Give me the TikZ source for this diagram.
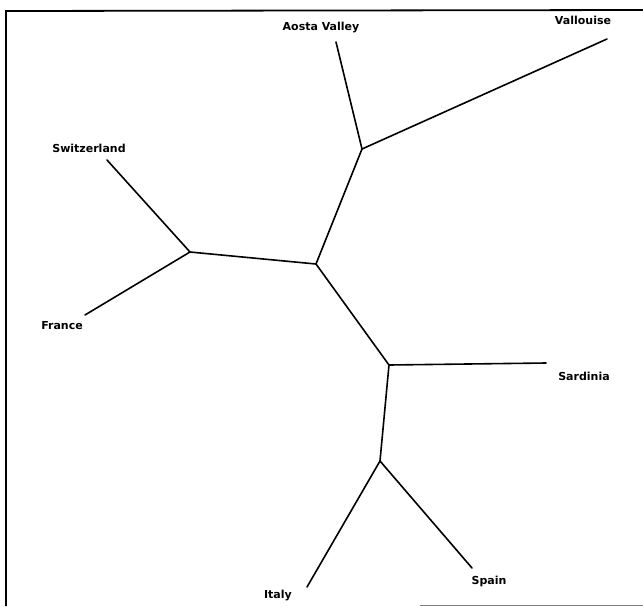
\documentclass[tikz,border=0pt]{standalone}
\usepackage{fontspec}
\setmainfont{DejaVu Sans}
\begin{document}
\begin{tikzpicture}[x=1pt,y=-1pt,
  branch/.style={line width=1.6pt,line cap=round,line join=round},
  leaf/.style={font=\bfseries\fontsize{11}{13}\selectfont,inner sep=0pt},
  frameline/.style={line width=1.8pt}]
\useasboundingbox (0,0) rectangle (643,606);
\fill[white] (0,0) rectangle (643,606);
% frame
\draw[frameline] (643,10) -- (6,11) -- (6,606);
\draw[line width=1pt,gray] (420,605) -- (643,605);
% internal nodes
\coordinate (c) at (316,264);
\coordinate (u) at (362,149);
\coordinate (l) at (190,252);
\coordinate (d) at (389,365);
\coordinate (b) at (380,461);
% leaf ends
\coordinate (aosta) at (336,42);
\coordinate (vall) at (607,39);
\coordinate (swiss) at (107,160);
\coordinate (france) at (85,315);
\coordinate (sard) at (546,363);
\coordinate (italy) at (307,587);
\coordinate (spain) at (472,568);
% branches
\draw[branch] (c) -- (u);
\draw[branch] (u) -- (aosta);
\draw[branch] (u) -- (vall);
\draw[branch] (c) -- (l);
\draw[branch] (l) -- (swiss);
\draw[branch] (l) -- (france);
\draw[branch] (c) -- (d);
\draw[branch] (d) -- (sard);
\draw[branch] (d) -- (b);
\draw[branch] (b) -- (italy);
\draw[branch] (b) -- (spain);
% labels
\node[leaf] (taosta) at (321,28) {Aosta Valley};
\node[leaf] (tvall) at (583,20) {Vallouise};
\node[leaf] (tswiss) at (89,148) {Switzerland};
\node[leaf] (tfrance) at (62,326) {France};
\node[leaf] (tsard) at (584,376) {Sardinia};
\node[leaf] (titaly) at (278,595) {Italy};
\node[leaf] (tspain) at (489,581) {Spain};
\end{tikzpicture}
\end{document}
